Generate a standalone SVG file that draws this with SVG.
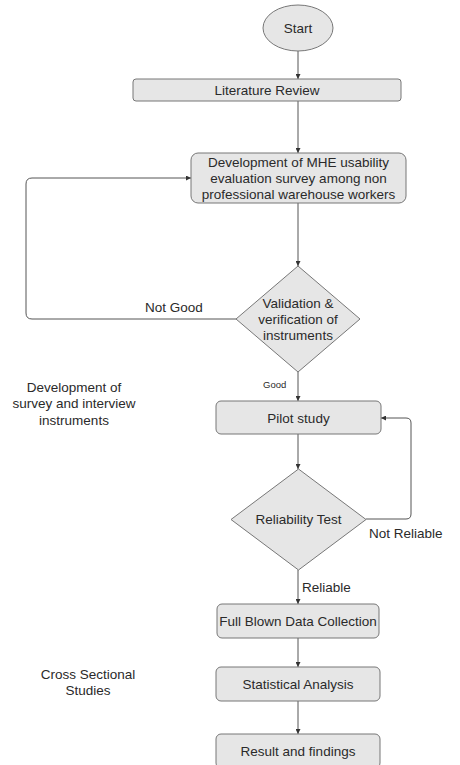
<svg xmlns="http://www.w3.org/2000/svg" width="460" height="765" viewBox="0 0 460 765">
<defs>
<marker id="ah" viewBox="0 0 6 6" refX="6" refY="3" markerWidth="5" markerHeight="5" orient="auto" markerUnits="userSpaceOnUse">
<path d="M0,0 L6,3 L0,6 Z" fill="#333"/>
</marker>
<style>
.n{fill:#e6e6e6;stroke:#777;stroke-width:1}
.t{font-family:"Liberation Sans",Arial,sans-serif;font-size:13.5px;fill:#2a2a2a;text-anchor:middle;dominant-baseline:central}
.e{fill:none;stroke:#555;stroke-width:1;marker-end:url(#ah)}
.l{font-family:"Liberation Sans",Arial,sans-serif;font-size:13.5px;fill:#2a2a2a;dominant-baseline:central}
</style>
</defs>
<rect width="460" height="765" fill="#fff"/>
<g id="connectors">
<path class="e" d="M298,51 V79"/>
<path class="e" d="M298,101 V153"/>
<path class="e" d="M298,203 V266"/>
<path class="e" d="M236,319 H32 Q26,319 26,313 V184 Q26,178 32,178 H191"/>
<path class="e" d="M298,372 V401"/>
<path class="e" d="M298,434 V469"/>
<path class="e" d="M366,519 H406 Q411,519 411,514 V423 Q411,418 406,418 H381"/>
<path class="e" d="M298,570 V604"/>
<path class="e" d="M298,638 V667"/>
<path class="e" d="M298,701 V734"/>
<text class="l" x="145" y="307">Not Good</text>
<text class="l" x="263" y="384" style="font-size:9.5px">Good</text>
<text class="l" x="369" y="533">Not Reliable</text>
<text class="l" x="302" y="587">Reliable</text>
</g>
<g id="start">
<ellipse class="n" cx="298" cy="28" rx="35" ry="23"/>
<text class="t" x="298" y="28">Start</text>
</g>
<g id="literature">
<rect class="n" x="133" y="79" width="268" height="22" rx="3"/>
<text class="t" x="267" y="90">Literature Review</text>
</g>
<g id="development">
<rect class="n" x="191" y="153" width="215" height="50" rx="7"/>
<text class="t" x="298.5" y="162">Development of MHE usability</text>
<text class="t" x="298.5" y="178">evaluation survey among non</text>
<text class="t" x="298.5" y="194">professional warehouse workers</text>
</g>
<g id="validation">
<polygon class="n" points="298,266 360,319 298,372 236,319"/>
<text class="t" x="298" y="303">Validation &amp;</text>
<text class="t" x="298" y="319">verification of</text>
<text class="t" x="298" y="335">instruments</text>
</g>
<g id="pilot">
<rect class="n" x="216" y="401" width="165" height="33" rx="5"/>
<text class="t" x="298.5" y="418">Pilot study</text>
</g>
<g id="reliability">
<polygon class="n" points="298.5,469 366,519.5 298.5,570 231,519.5"/>
<text class="t" x="298.5" y="519">Reliability Test</text>
</g>
<g id="fullblown">
<rect class="n" x="217" y="604" width="162" height="34" rx="5"/>
<text class="t" x="298" y="621">Full Blown Data Collection</text>
</g>
<g id="statistical">
<rect class="n" x="216" y="667" width="164" height="34" rx="5"/>
<text class="t" x="298" y="684">Statistical Analysis</text>
</g>
<g id="result">
<rect class="n" x="216" y="734" width="164" height="34" rx="5"/>
<text class="t" x="298" y="751">Result and findings</text>
</g>
<g id="label-dev">
<text class="t" x="74" y="387">Development of</text>
<text class="t" x="74" y="403">survey and interview</text>
<text class="t" x="74" y="420">instruments</text>
</g>
<g id="label-cross">
<text class="t" x="88" y="674">Cross Sectional</text>
<text class="t" x="88" y="690">Studies</text>
</g>
</svg>
